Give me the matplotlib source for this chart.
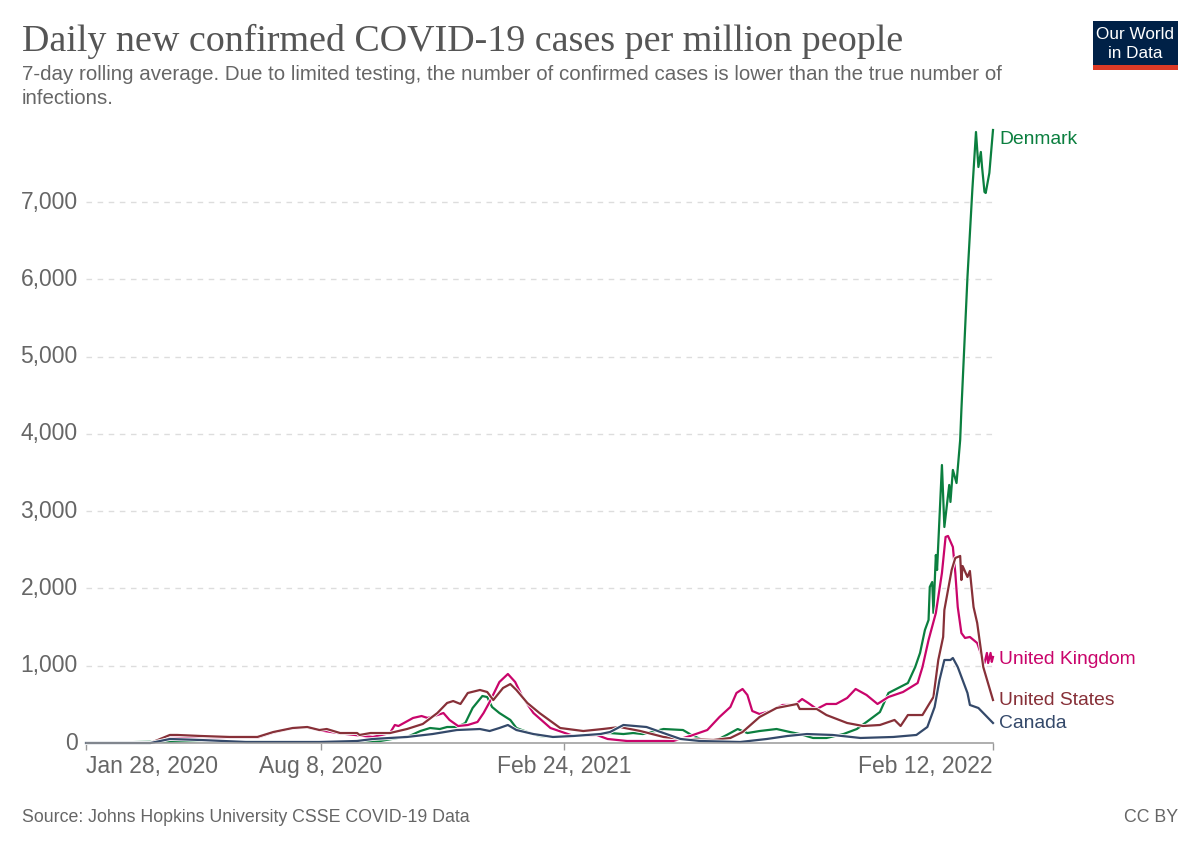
import matplotlib
matplotlib.use("Agg")
import matplotlib.pyplot as plt
import matplotlib.patheffects as pe
from matplotlib.patches import Rectangle

# days since Jan 28, 2020 / cases per million
dk_days = [0, 44, 94, 192, 242, 266, 275, 283, 291, 297, 305, 312, 318, 326, 330, 334, 340, 349, 354, 363, 373, 387, 402,
           431, 442, 450, 458, 475, 491, 498, 507, 519, 527, 536, 544, 554, 568, 579, 587, 598, 609, 623, 634, 642, 653, 660,
           676, 682, 686, 690, 693, 694, 696, 697, 699, 700, 704, 706, 710, 711, 713, 716, 719, 720, 725, 729, 732, 734, 736,
           737, 739, 740, 743, 746]
dk_vals = [0, 13, 26, 13, 26, 91, 155, 194, 181, 207, 207, 259, 453, 608, 595, 466, 388, 298, 194, 142, 91, 78, 91,
           129, 116, 129, 116, 181, 168, 104, 39, 39, 104, 181, 129, 155, 181, 142, 116, 65, 65, 116, 181, 272, 401, 647,
           776, 983, 1165, 1462, 1592, 2019, 2083, 1682, 2433, 2239, 3597, 2795, 3339, 3119, 3533, 3364, 3921, 4309, 6030, 7156, 7906, 7453, 7648,
           7453, 7130, 7117, 7376, 7932]

uk_days = [0, 53, 69, 94, 141, 154, 170, 182, 192, 209, 236, 250, 254, 257, 269, 276, 281, 289, 294, 299, 306, 314, 322, 327,
           332, 340, 347, 353, 359, 368, 382, 401, 420, 429, 445, 464, 483, 497, 511, 521, 530, 535, 540, 544, 548, 554,
           563, 573, 583, 589, 594, 601, 609, 617, 626, 633, 642, 651, 660, 672, 684, 688, 693, 699, 704, 707, 709, 713,
           715, 717, 720, 723, 727, 733, 737, 739, 741, 742, 744, 745, 746]
uk_vals = [0, 0, 80, 75, 70, 135, 190, 200, 165, 125, 78, 129, 233, 220, 324, 349, 324, 362, 388, 298, 220, 233, 272, 388,
           531, 789, 893, 789, 595, 388, 194, 91, 104, 52, 26, 26, 26, 91, 168, 336, 466, 647, 699, 621, 414, 375,
           414, 492, 492, 569, 518, 440, 505, 505, 582, 699, 621, 505, 595, 660, 776, 983, 1333, 1682, 2200, 2666, 2679, 2536,
           2200, 1760, 1423, 1359, 1372, 1294, 1113, 1035, 1165, 1035, 1165, 1050, 1113]

us_days = [0, 53, 69, 75, 94, 118, 141, 154, 170, 182, 192, 198, 209, 223, 225, 234, 250, 264, 277, 289, 297, 302, 308, 314,
           324, 330, 335, 343, 349, 354, 363, 373, 390, 409, 425, 439, 456, 475, 491, 516, 530, 540, 554, 568, 585, 587,
           594, 601, 609, 626, 639, 653, 665, 670, 676, 688, 694, 697, 701, 705, 706, 712, 715, 719, 720, 721, 725, 727,
           730, 733, 738, 746]
us_vals = [0, 0, 104, 104, 91, 78, 78, 142, 194, 207, 168, 181, 129, 129, 104, 129, 129, 181, 246, 388, 518, 543, 505, 647,
           686, 660, 556, 712, 763, 686, 518, 388, 194, 155, 181, 207, 155, 78, 52, 39, 65, 142, 336, 453, 505, 440,
           440, 440, 362, 259, 220, 233, 298, 220, 362, 362, 518, 595, 1074, 1372, 1721, 2239, 2394, 2420, 2109, 2290, 2148, 2226,
           1760, 1553, 983, 556]

ca_days = [0, 53, 69, 94, 132, 192, 223, 236, 264, 285, 305, 324, 332, 340, 347, 354, 368, 384, 401, 423, 431, 442, 461, 475,
           489, 505, 538, 560, 577, 593, 614, 637, 664, 683, 692, 698, 702, 706, 711, 713, 717, 725, 727, 734, 746]
ca_vals = [0, 0, 52, 39, 13, 13, 26, 52, 78, 116, 168, 181, 155, 194, 233, 168, 116, 78, 91, 116, 142, 233, 207, 129,
           52, 26, 13, 52, 91, 116, 104, 65, 78, 104, 207, 466, 815, 1074, 1074, 1100, 983, 647, 492, 453, 259]

tick_days = [0, 193, 393, 746]
tick_labels = ["Jan 28, 2020", "Aug 8, 2020", "Feb 24, 2021", "Feb 12, 2022"]
y_ticks = [1000, 2000, 3000, 4000, 5000, 6000, 7000]

DK = "#0b7f3f"
UK = "#c9056b"
US = "#873038"
CA = "#34496a"
GREY = "#666666"
W, H = 1200, 847

plt.rcParams["font.family"] = ["Liberation Sans", "DejaVu Sans"]

fig = plt.figure(figsize=(W / 100, H / 100), dpi=100)
ax = fig.add_axes([86 / W, 1 - 743 / H, 907 / W, 613 / H])
ax.set_xlim(0, 746)
ax.set_ylim(0, 7932)

ax.set_yticks(y_ticks)
ax.yaxis.grid(True, color="#dddddd", linestyle=(0, (4, 4)), linewidth=1)
ax.set_axisbelow(True)
for s in ["top", "left", "right"]:
    ax.spines[s].set_visible(False)
ax.spines["bottom"].set_color("#999999")
ax.spines["bottom"].set_linewidth(1.1)
ax.tick_params(axis="y", length=0, labelleft=False)
ax.set_xticks(tick_days)
ax.set_xticklabels([])
ax.tick_params(axis="x", length=5, width=1, color="#999999")

# y labels, right edge at px 78
for v in [0] + y_ticks:
    ax.annotate(f"{v:,}", (0, v), xytext=(-6, 0), textcoords="offset points",
                ha="right", va="center", fontsize=16.5, color=GREY, annotation_clip=False)

aligns = ["left", "center", "center", "right"]
for d, lab, al in zip(tick_days, tick_labels, aligns):
    ax.annotate(lab, (d, 0), xytext=(0, -9), textcoords="offset points",
                ha=al, va="top", fontsize=16.5, color=GREY, annotation_clip=False)

halo = [pe.withStroke(linewidth=2.8, foreground="white")]
for days, vals, col in [(dk_days, dk_vals, DK), (uk_days, uk_vals, UK),
                        (us_days, us_vals, US), (ca_days, ca_vals, CA)]:
    ax.plot(days, vals, color=col, linewidth=1.6, clip_on=False,
            path_effects=halo, solid_joinstyle="round")

# series labels
for name, days, vals, col, dy in [("Denmark", dk_days, dk_vals, DK, -6.5),
                                  ("United Kingdom", uk_days, uk_vals, UK, -1.5),
                                  ("United States", us_days, us_vals, US, -0.5),
                                  ("Canada", ca_days, ca_vals, CA, -0.5)]:
    ax.annotate(name, (days[-1], vals[-1]), xytext=(4.5, dy), textcoords="offset points",
                ha="left", va="center", fontsize=13.9, color=col, annotation_clip=False)

fig.text(22 / W, 1 - 41 / H, "Daily new confirmed COVID-19 cases per million people",
         fontfamily="Liberation Serif", fontsize=27.4, color="#555555", va="center")
fig.text(22 / W, 1 - 74 / H,
         "7-day rolling average. Due to limited testing, the number of confirmed cases is lower than the true number of",
         fontsize=14.8, color=GREY, va="center")
fig.text(22 / W, 1 - 98 / H, "infections.", fontsize=14.8, color=GREY, va="center")
fig.text(22 / W, 1 - 817 / H, "Source: Johns Hopkins University CSSE COVID-19 Data",
         fontsize=12.75, color=GREY, va="center")
fig.text(1178 / W, 1 - 817 / H, "CC BY", fontsize=12.75, color=GREY, va="center", ha="right")

# logo
fig.add_artist(Rectangle((1093 / W, 1 - 70 / H), 85 / W, 49 / H, transform=fig.transFigure,
                         facecolor="#002147", edgecolor="none"))
fig.add_artist(Rectangle((1093 / W, 1 - 70 / H), 85 / W, 5 / H, transform=fig.transFigure,
                         facecolor="#dc3a26", edgecolor="none"))
fig.text(1135.5 / W, 1 - 34.5 / H, "Our World", color="white", fontsize=12.3, ha="center", va="center")
fig.text(1135.5 / W, 1 - 53 / H, "in Data", color="white", fontsize=12.3, ha="center", va="center")

fig.savefig("out.png", dpi=100)
